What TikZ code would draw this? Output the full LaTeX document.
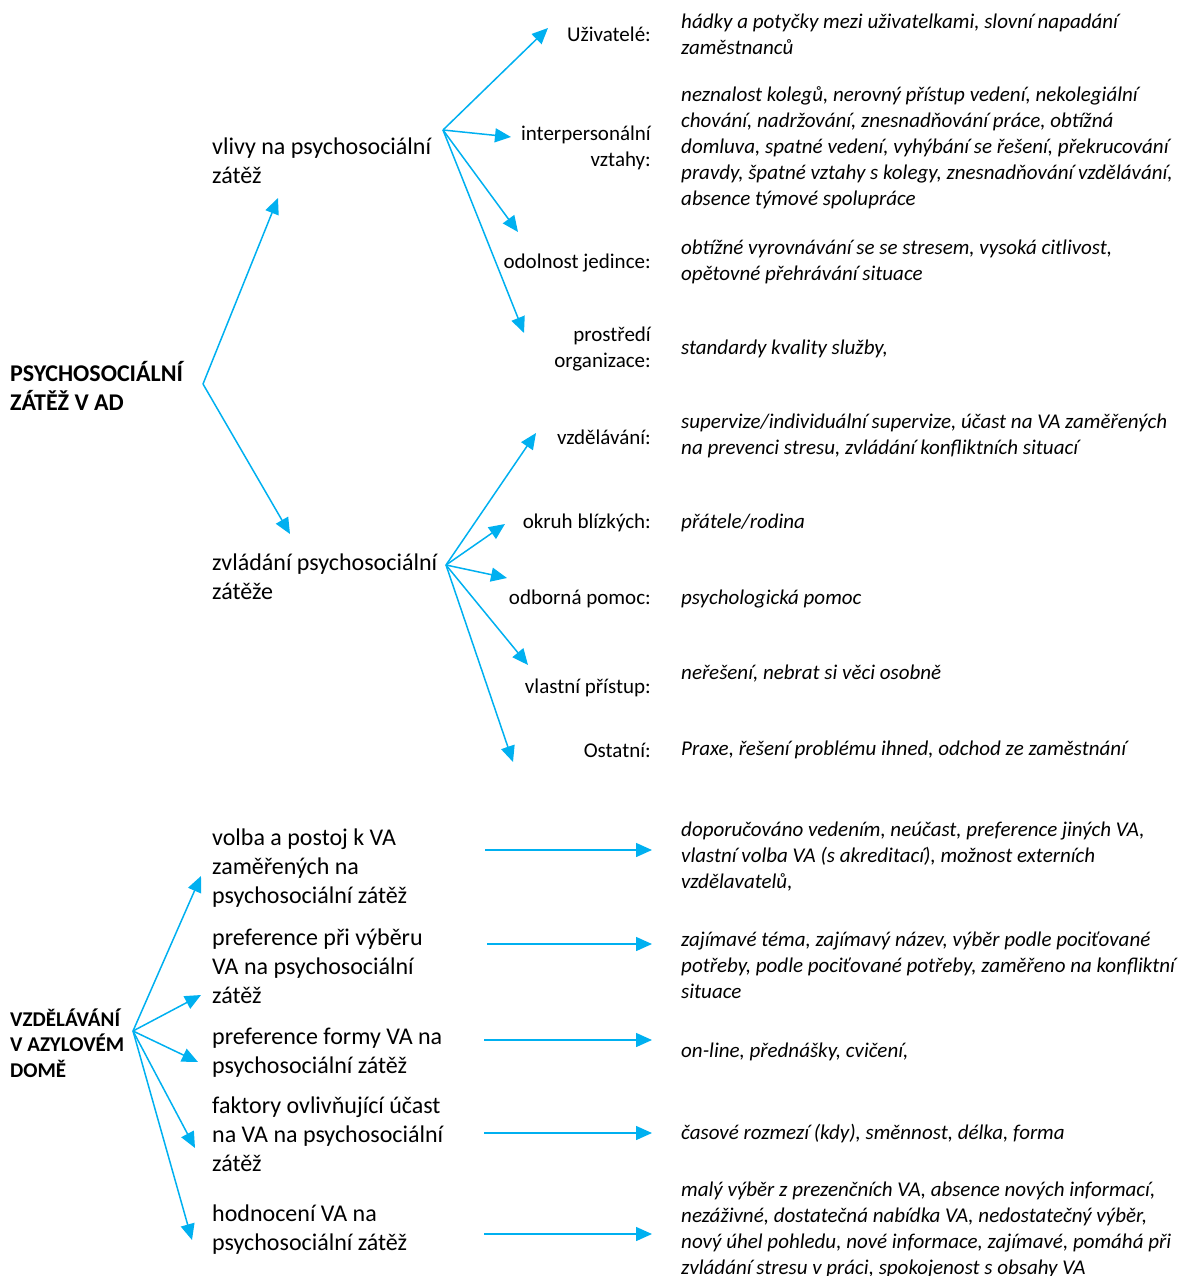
\documentclass[tikz,border=0pt]{standalone}
\usepackage{fontspec}
\setmainfont{Carlito}
\usetikzlibrary{arrows.meta}
\definecolor{modra}{RGB}{0,176,240}
\tikzset{
  sipka/.style={draw=modra, line width=1.5pt, -{Triangle[length=16pt,width=14pt]}},
  hlavni/.style={anchor=west, align=left, inner sep=0pt, font=\fontsize{24}{29}\selectfont\bfseries},
  stred/.style={anchor=west, align=left, inner sep=0pt, font=\fontsize{24}{29}\selectfont},
  popis/.style={anchor=east, align=right, inner sep=0pt, font=\fontsize{21}{26}\selectfont},
  obsah/.style={anchor=west, align=left, inner sep=0pt, font=\fontsize{21}{26}\selectfont\itshape}
}
\begin{document}
\begin{tikzpicture}[x=1pt,y=-1pt]
\useasboundingbox (0,0) rectangle (1187,1276);
% hlavni temata
\node[hlavni] (psz) at (10,386) {PSYCHOSOCIÁLNÍ\\ZÁTĚŽ V AD};
\node[hlavni,font=\fontsize{21}{25.5}\selectfont\bfseries] (vzd) at (10,1043) {VZDĚLÁVÁNÍ\\V AZYLOVÉM\\DOMĚ};
% stredni sloupec
\node[stred] (vlivy) at (212,161) {vlivy na psychosociální\\zátěž};
\node[stred] (zvladani) at (212,577) {zvládání psychosociální\\zátěže};
\node[stred] (volba) at (212,868) {volba a postoj k VA\\zaměřených na\\psychosociální zátěž};
\node[stred] (prefvyber) at (212,966) {preference při výběru\\VA na psychosociální\\zátěž};
\node[stred] (prefforma) at (212,1053) {preference formy VA na\\psychosociální zátěž};
\node[stred] (faktory) at (212,1134) {faktory ovlivňující účast\\na VA na psychosociální\\zátěž};
\node[stred] (hodnoceni) at (212,1230) {hodnocení VA na\\psychosociální zátěž};
% popisky
\node[popis] (uziv) at (651,34) {Uživatelé:};
\node[popis] (inter) at (651,148) {interpersonální\\vztahy:};
\node[popis] (odol) at (651,263) {odolnost jedince:};
\node[popis] (prostr) at (651,349) {prostředí\\organizace:};
\node[popis] (vzdel) at (651,437) {vzdělávání:};
\node[popis] (okruh) at (651,523) {okruh blízkých:};
\node[popis] (odbor) at (651,599) {odborná pomoc:};
\node[popis] (vlastni) at (651,688) {vlastní přístup:};
\node[popis] (ostatni) at (651,750) {Ostatní:};
% obsah
\node[obsah] (o-uziv) at (681,34) {hádky a potyčky mezi uživatelkami, slovní napadání\\zaměstnanců};
\node[obsah] (o-inter) at (681,148) {neznalost kolegů, nerovný přístup vedení, nekolegiální\\chování, nadržování, znesnadňování práce, obtížná\\domluva, spatné vedení, vyhýbání se řešení, překrucování\\pravdy, špatné vztahy s kolegy, znesnadňování vzdělávání,\\absence týmové spolupráce};
\node[obsah] (o-odol) at (681,262) {obtížné vyrovnávání se se stresem, vysoká citlivost,\\opětovné přehrávání situace};
\node[obsah] (o-prostr) at (681,349) {standardy kvality služby,};
\node[obsah] (o-vzdel) at (681,436) {supervize/individuální supervize, účast na VA zaměřených\\na prevenci stresu, zvládání konfliktních situací};
\node[obsah] (o-okruh) at (681,523) {přátele/rodina};
\node[obsah] (o-odbor) at (681,599) {psychologická pomoc};
\node[obsah] (o-vlastni) at (681,674) {neřešení, nebrat si věci osobně};
\node[obsah] (o-ostatni) at (681,750) {Praxe, řešení problému ihned, odchod ze zaměstnání};
\node[obsah] (o-volba) at (681,857) {doporučováno vedením, neúčast, preference jiných VA,\\vlastní volba VA (s akreditací), možnost externích\\vzdělavatelů,};
\node[obsah] (o-prefvyber) at (681,965) {zajímavé téma, zajímavý název, výběr podle pociťované\\potřeby, podle pociťované potřeby, zaměřeno na konfliktní\\situace};
\node[obsah] (o-prefforma) at (681,1052) {on-line, přednášky, cvičení,};
\node[obsah] (o-faktory) at (681,1134) {časové rozmezí (kdy), směnnost, délka, forma};
\node[obsah] (o-hodnoceni) at (681,1230) {malý výběr z prezenčních VA, absence nových informací,\\nezáživné, dostatečná nabídka VA, nedostatečný výběr,\\nový úhel pohledu, nové informace, zajímavé, pomáhá při\\zvládání stresu v práci, spokojenost s obsahy VA};
% body sipek
\coordinate (h-psz) at (203,384);
\coordinate (h-vlivy) at (443,130);
\coordinate (h-zvl) at (446,565);
\coordinate (h-vzd) at (133,1031);
\foreach \n/\x/\y in {t-vlivy/278/198, t-zvl/290/534,
  t-uziv/548/28, t-inter/511/137, t-odol/518/232, t-prostr/524/333,
  t-vzdel/536/433, t-okruh/505/524, t-odbor/507/578, t-vlastni/528/665, t-ostatni/513/762,
  t-volba/201/876, t-prefvyber/201/995, t-prefforma/198/1062, t-faktory/195/1148, t-hodnoceni/192/1240}
  \coordinate (\n) at (\x,\y);
\foreach \n/\x/\y in {volba/485/850, prefvyber/487/944, prefforma/484/1040, faktory/484/1133, hodnoceni/484/1234}
{
  \coordinate (s-\n) at (\x,\y);
  \coordinate (e-\n) at (652,\y);
}
% sipky
\foreach \n in {vlivy,zvl}
  \draw[sipka] (h-psz) -- (t-\n);
\foreach \n in {uziv,inter,odol,prostr}
  \draw[sipka] (h-vlivy) -- (t-\n);
\foreach \n in {vzdel,okruh,odbor,vlastni,ostatni}
  \draw[sipka] (h-zvl) -- (t-\n);
\foreach \n in {volba,prefvyber,prefforma,faktory,hodnoceni}
{
  \draw[sipka] (h-vzd) -- (t-\n);
  \draw[sipka] (s-\n) -- (e-\n);
}
\end{tikzpicture}
\end{document}
